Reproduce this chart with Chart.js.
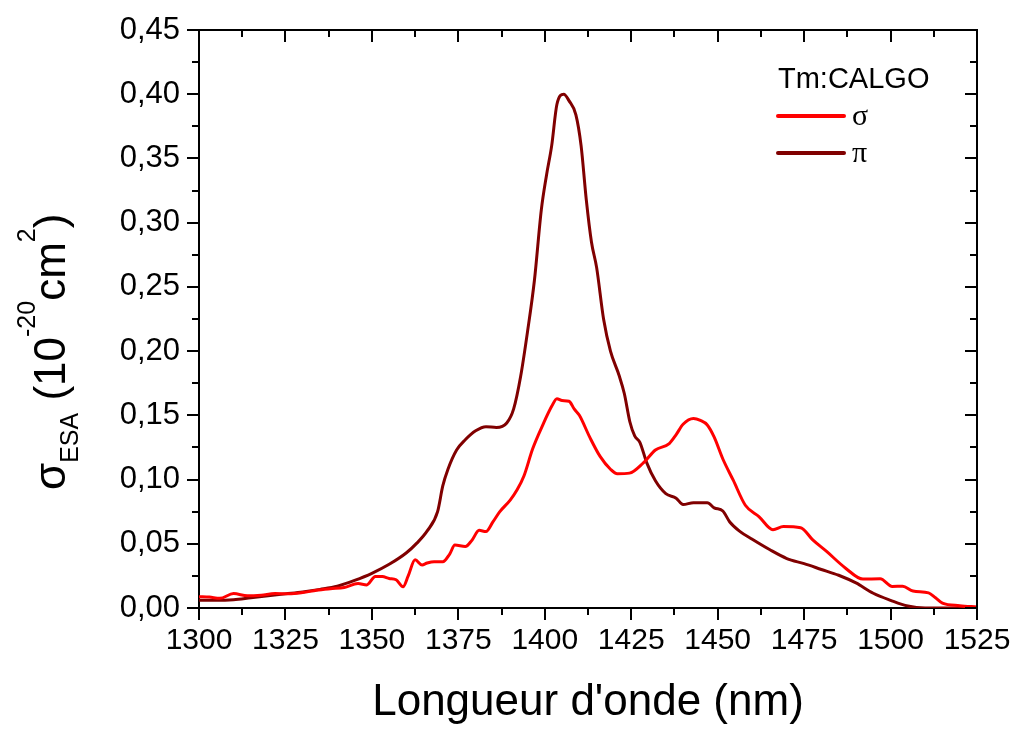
<!DOCTYPE html>
<html>
<head>
<meta charset="utf-8">
<script src="https://cdn.jsdelivr.net/npm/chart.js@4.4.0/dist/chart.umd.min.js"></script>
<style>
  body { margin: 0; background: #fff; }
  canvas { display: block; }
</style>
</head>
<body>
<canvas id="myChart" width="1016" height="729"></canvas>
<script>
// wavelengths (nm) and ESA cross-sections (10^-20 cm^2)
var wlPi = [1300,1305,1310,1315,1320,1325,1330,1335,1340,1345,1350,1355,1360,1363,1366,1369,1370.5,1372,1374.5,1377,1380,1383,1386,1389,1391,1393,1395,1397,1399,1400.5,1402,1403.5,1405.5,1407,1409,1410.5,1412,1413.5,1415,1417,1419,1421.5,1423,1424.6,1426,1427.5,1429.5,1432,1435,1438,1440,1443,1447,1449,1451.5,1453.5,1456.5,1460,1465,1470,1475,1480,1485,1490,1495,1500,1505,1510,1515,1520,1525];
var piValues = [0.006,0.006,0.0065,0.008,0.0095,0.011,0.0125,0.0145,0.017,0.0215,0.027,0.034,0.043,0.0505,0.06,0.075,0.095,0.108,0.123,0.131,0.138,0.1412,0.1405,0.144,0.155,0.18,0.215,0.255,0.31,0.337,0.36,0.392,0.4,0.395,0.384,0.36,0.318,0.285,0.265,0.225,0.2,0.181,0.167,0.145,0.134,0.129,0.113,0.099,0.089,0.0855,0.0805,0.082,0.082,0.078,0.0755,0.067,0.0595,0.0535,0.0455,0.0385,0.0345,0.03,0.0255,0.0195,0.0115,0.006,0.0015,0,0,0,0];

var wlSigma = [1300,1303,1306,1310,1314,1318,1322,1326,1330,1334,1338,1342,1346,1348.5,1351,1353,1355,1357,1359,1360.5,1362.5,1364.5,1366,1368,1370.5,1372.5,1374,1377,1379,1381,1383,1385,1387,1390,1392,1394,1396.5,1399.5,1402,1403.5,1405,1407,1408.5,1410,1413,1416,1419,1421,1424.5,1428.5,1432,1436,1438,1440,1443,1445,1447,1449,1451.5,1454.5,1458,1462,1466,1469,1474,1477.5,1481.5,1487,1492,1497,1500.5,1503.5,1506.5,1511,1513,1515,1520,1525];
var sigmaValues = [0.0088,0.0085,0.0075,0.0112,0.0095,0.01,0.0112,0.011,0.012,0.0138,0.015,0.016,0.019,0.018,0.0245,0.0245,0.023,0.022,0.0165,0.025,0.0375,0.0335,0.035,0.036,0.036,0.042,0.049,0.0478,0.053,0.0605,0.0595,0.067,0.075,0.084,0.092,0.103,0.124,0.143,0.157,0.163,0.1615,0.161,0.155,0.15,0.133,0.118,0.108,0.1045,0.105,0.113,0.123,0.128,0.135,0.143,0.1475,0.146,0.1425,0.133,0.116,0.0995,0.08,0.071,0.061,0.0635,0.0625,0.053,0.044,0.031,0.0225,0.0228,0.0168,0.017,0.0132,0.0118,0.008,0.0038,0.0018,0.0008];

var seriesNames = ["\u03c3", "\u03c0"];
var seriesColors = ["#ff0000", "#800000"];
var legendTitle = "Tm:CALGO";

function toPoints(xs, ys) {
  return xs.map((x, i) => ({ x: x, y: ys[i] }));
}

Chart.defaults.font.family = "'Liberation Sans', Arial, sans-serif";

// frame, mirrored/minor ticks, y title with sub/superscripts, legend
var extras = {
  id: "extras",
  afterDraw(chart) {
    const ctx = chart.ctx;
    const a = chart.chartArea;
    const xs = chart.scales.x, ys = chart.scales.y;
    ctx.save();
    ctx.strokeStyle = "#000";
    ctx.lineWidth = 2;
    ctx.beginPath();
    ctx.moveTo(a.left, a.top); ctx.lineTo(a.right, a.top); ctx.lineTo(a.right, a.bottom);
    // x ticks, major + minor
    for (let v = 1300; v <= 1525; v += 12.5) {
      const px = Math.round(xs.getPixelForValue(v));
      const major = (v % 25) === 0;
      const len = major ? 12 : 7;
      ctx.moveTo(px, a.top); ctx.lineTo(px, a.top + len);
      if (!major) { ctx.moveTo(px, a.bottom); ctx.lineTo(px, a.bottom + len); }
    }
    // y ticks
    for (let i = 0; i <= 18; i++) {
      const py = Math.round(ys.getPixelForValue(i * 0.025));
      const major = i % 2 === 0;
      const len = major ? 12 : 7;
      ctx.moveTo(a.right, py); ctx.lineTo(a.right - len, py);
      if (!major) { ctx.moveTo(a.left, py); ctx.lineTo(a.left - len, py); }
    }
    ctx.stroke();

    // y axis title: sigma_ESA (10^-20 cm^2)
    ctx.fillStyle = "#000";
    ctx.translate(65, 490);
    ctx.rotate(-Math.PI / 2);
    ctx.textBaseline = "alphabetic";
    const big = "44px 'Liberation Sans', Arial, sans-serif";
    const small = "25px 'Liberation Sans', Arial, sans-serif";
    const parts = [
      ["\u03c3", big, 0],
      ["ESA", small, 13],
      [" (10", big, 0],
      ["-20", small, -30],
      ["cm", big, 0],
      ["2", small, -30],
      [")", big, 0]
    ];
    let x = 0;
    parts.forEach(p => {
      ctx.font = p[1];
      ctx.fillText(p[0], x, p[2]);
      x += ctx.measureText(p[0]).width;
    });
    ctx.setTransform(1, 0, 0, 1, 0, 0);

    // legend
    ctx.font = "29px 'Liberation Sans', Arial, sans-serif";
    ctx.fillText(legendTitle, 778, 88);
    ctx.lineWidth = 4;
    ctx.lineCap = "round";
    chart.data.datasets.forEach((ds, i) => {
      const ly = 116 + i * 37;
      ctx.strokeStyle = ds.borderColor;
      ctx.beginPath();
      ctx.moveTo(778, ly); ctx.lineTo(844, ly);
      ctx.stroke();
      ctx.font = "30px 'Liberation Serif', 'Times New Roman', serif";
      ctx.textBaseline = "middle";
      ctx.fillText(ds.label, 852, ly + 1);
      ctx.textBaseline = "alphabetic";
    });
    ctx.restore();
  }
};

var mychart = new Chart("myChart", {
  type: "line",
  data: {
    datasets: [
      { label: seriesNames[0], data: toPoints(wlSigma, sigmaValues), borderColor: seriesColors[0] },
      { label: seriesNames[1], data: toPoints(wlPi, piValues), borderColor: seriesColors[1] }
    ]
  },
  options: {
    responsive: false,
    animation: false,
    layout: { padding: { left: 0, right: 39, top: 30, bottom: 0 } },
    elements: {
      point: { radius: 0 },
      line: { borderWidth: 3, cubicInterpolationMode: "monotone", fill: false }
    },
    plugins: { legend: { display: false }, tooltip: { enabled: false } },
    scales: {
      x: {
        type: "linear",
        min: 1300,
        max: 1525,
        ticks: { stepSize: 25, color: "#000", font: { size: 30 }, padding: 3, maxRotation: 0, autoSkip: false,
          callback: v => String(v) },
        grid: { drawOnChartArea: false, tickLength: 12, color: "#000", lineWidth: 2 },
        border: { color: "#000", width: 2 },
        title: { display: true, text: "Longueur d'onde (nm)", color: "#000", font: { size: 44 }, padding: { top: 0, bottom: 0 } },
        afterFit: s => { s.height = 121; }
      },
      y: {
        min: 0,
        max: 0.45,
        ticks: {
          stepSize: 0.05, color: "#000", font: { size: 31 }, padding: 7,
          callback: v => v.toFixed(2).replace(".", ",")
        },
        grid: { drawOnChartArea: false, tickLength: 12, color: "#000", lineWidth: 2 },
        border: { color: "#000", width: 2 },
        afterFit: s => { s.width = 199; }
      }
    }
  },
  plugins: [extras]
});
</script>
</body>
</html>
